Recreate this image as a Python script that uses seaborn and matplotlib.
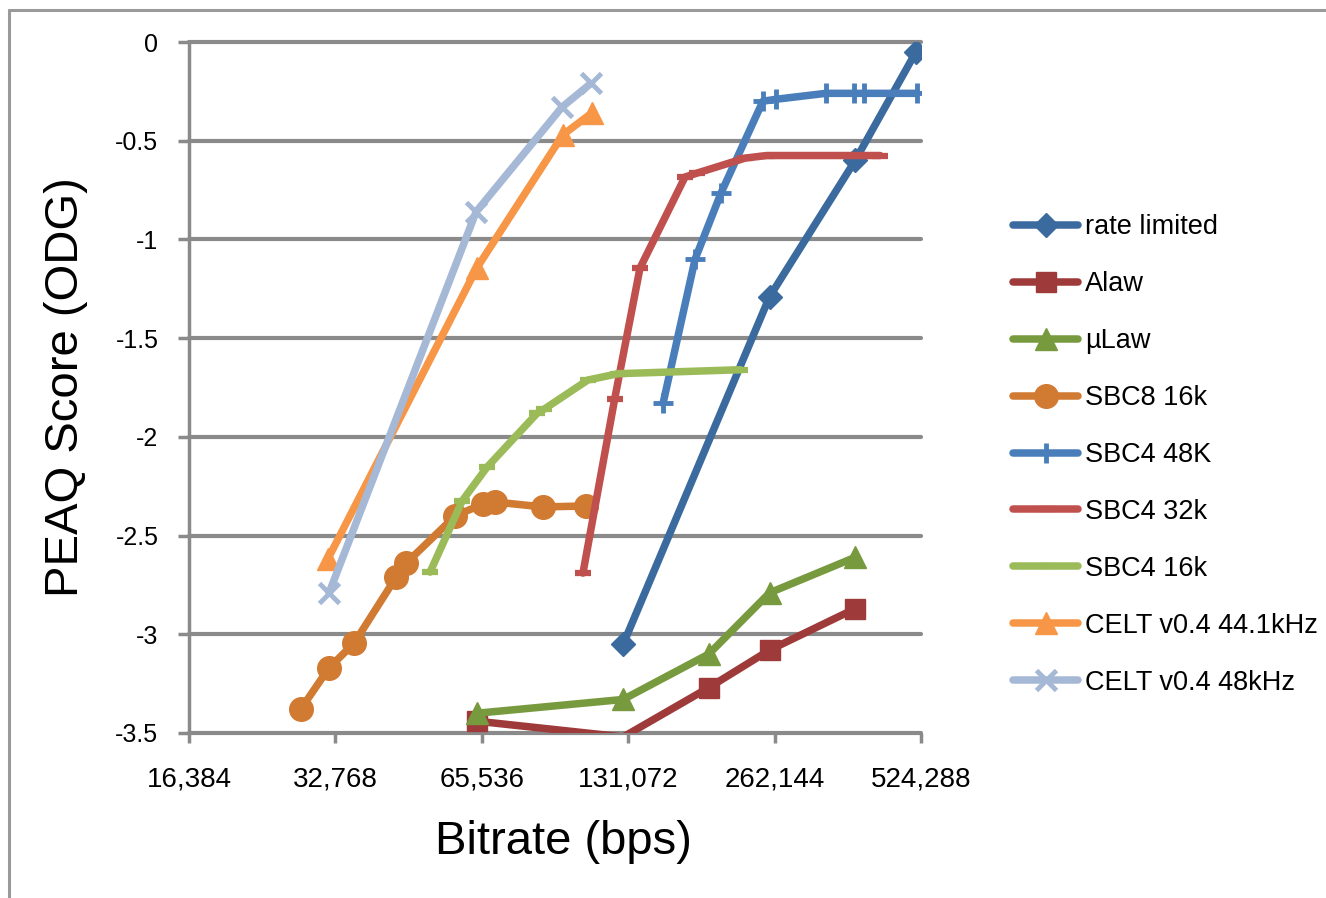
import matplotlib
matplotlib.use("Agg")
import matplotlib.pyplot as plt
import seaborn as sns
import pandas as pd
from matplotlib.lines import Line2D

sns.set_theme(style="white")
plt.rcParams['font.family'] = ['Liberation Sans', 'DejaVu Sans']
plt.rcParams['text.color'] = 'black'
plt.rcParams['axes.labelcolor'] = 'black'
plt.rcParams['xtick.color'] = 'black'
plt.rcParams['ytick.color'] = 'black'

# ---------------- data ----------------
rate_x = [128000, 256000, 384000, 512000]
rate_y = [-3.05, -1.29, -0.60, -0.05]

alaw_x = [64000, 128000, 192000, 256000, 384000]
alaw_y = [-3.44, -3.52, -3.27, -3.08, -2.87]

mulaw_x = [64000, 128000, 192000, 256000, 384000]
mulaw_y = [-3.40, -3.33, -3.10, -2.79, -2.61]

sbc8_16_x = [27800, 31800, 35800, 43700, 45800, 57800, 65900, 69800, 87500, 107300]
sbc8_16_y = [-3.38, -3.17, -3.045, -2.71, -2.64, -2.40, -2.34, -2.33, -2.355, -2.35]

sbc4_48_x = [154600, 179900, 203400, 248000, 264000, 334000, 381000, 401000, 514000]
sbc4_48_y = [-1.83, -1.10, -0.765, -0.30, -0.29, -0.26, -0.26, -0.26, -0.26]

sbc4_32_x = [105800, 122900, 138600, 171500, 181600, 228000, 252600, 432000]
sbc4_32_y = [-2.69, -1.81, -1.145, -0.684, -0.664, -0.588, -0.575, -0.575]

sbc4_16_x = [51300, 59700, 67100, 85200, 88000, 108300, 125000, 222800]
sbc4_16_y = [-2.685, -2.325, -2.155, -1.88, -1.86, -1.712, -1.68, -1.66]

celt44_x = [31600, 64000, 96200, 110300]
celt44_y = [-2.62, -1.145, -0.47, -0.36]

celt48_x = [31800, 63800, 95800, 109800]
celt48_y = [-2.79, -0.86, -0.33, -0.21]

series_names = ["rate limited", "Alaw", "\u00b5Law", "SBC8 16k", "SBC4 48K",
                "SBC4 32k", "SBC4 16k", "CELT v0.4 44.1kHz", "CELT v0.4 48kHz"]
x_tick_values = [16384, 32768, 65536, 131072, 262144, 524288]
x_tick_labels = ["16,384", "32,768", "65,536", "131,072", "262,144", "524,288"]
y_tick_values = [0, -0.5, -1, -1.5, -2, -2.5, -3, -3.5]
y_tick_labels = ["0", "-0.5", "-1", "-1.5", "-2", "-2.5", "-3", "-3.5"]

series_data = [
    (rate_x, rate_y), (alaw_x, alaw_y), (mulaw_x, mulaw_y), (sbc8_16_x, sbc8_16_y),
    (sbc4_48_x, sbc4_48_y), (sbc4_32_x, sbc4_32_y), (sbc4_16_x, sbc4_16_y),
    (celt44_x, celt44_y), (celt48_x, celt48_y),
]

# ---------------- styles ----------------
styles = [
    dict(color="#3B6A9E", marker="D", markersize=12, mew=1),
    dict(color="#9E3B3A", marker="s", markersize=14, mew=1),
    dict(color="#789A3E", marker="^", markersize=16, mew=1),
    dict(color="#D07A32", marker="o", markersize=17, mew=1),
    dict(color="#4A7EBB", marker="+", markersize=15, mew=3.5),
    dict(color="#C0504D", marker="_", markersize=12, mew=4.5),
    dict(color="#9BBB59", marker="_", markersize=12, mew=4.5),
    dict(color="#F79646", marker="^", markersize=16, mew=1),
    dict(color="#A5B8D6", marker="x", markersize=14, mew=3.5),
]

Y_MIN, Y_MAX = -3.5, 0

W, H = 1326, 898
fig = plt.figure(figsize=(W / 100, H / 100), dpi=100)
ax = fig.add_axes([189 / W, 1 - 733 / H, (921 - 189) / W, (733 - 42) / H])

grid_color = "#8A8A8A"

for name, (xs, ys), st in zip(series_names, series_data, styles):
    df = pd.DataFrame({"x": xs, "y": ys})
    # markers of points outside the value range are hidden (as in the source)
    visible = [i for i, v in enumerate(ys) if Y_MIN <= v <= Y_MAX]
    sns.lineplot(data=df, x="x", y="y", ax=ax, sort=False, estimator=None,
                 color=st["color"], linewidth=5.4, marker=st["marker"],
                 markersize=st["markersize"], markeredgewidth=st["mew"],
                 markeredgecolor=st["color"], markerfacecolor=st["color"],
                 markevery=visible,
                 solid_capstyle="round", solid_joinstyle="round",
                 label=name, zorder=3)

ax.set_xscale("log", base=2)
ax.set_xlim(16384, 524288)
ax.set_ylim(Y_MIN, Y_MAX)
ax.set_xticks(x_tick_values)
ax.set_xticklabels(x_tick_labels, fontsize=20)
ax.set_yticks(y_tick_values)
ax.set_yticklabels(y_tick_labels, fontsize=18)
ax.xaxis.set_minor_locator(matplotlib.ticker.NullLocator())

ax.set_xlabel("")
ax.set_ylabel("")
ax.grid(False)
ax.yaxis.grid(True, color=grid_color, linewidth=3, zorder=1)
ax.set_axisbelow(True)
for gl in ax.get_ygridlines():
    gl.set_clip_on(False)

for s in ["top", "right", "bottom"]:
    ax.spines[s].set_visible(False)
ax.spines["left"].set_color(grid_color)
ax.spines["left"].set_linewidth(2.5)

ax.tick_params(axis="x", direction="out", length=7, width=2.5, color=grid_color,
               pad=17, labelcolor="black", bottom=True)
ax.tick_params(axis="y", direction="out", length=8, width=2.5, color=grid_color,
               pad=14, labelcolor="black", left=True)
ax.patch.set_alpha(0)

# axis titles
fig.text(563 / W, 1 - 842 / H, "Bitrate (bps)", fontsize=34, ha="center", va="center",
         color="black")
fig.text(66 / W, 1 - 387 / H, "PEAQ Score (ODG)", fontsize=34, ha="center", va="center",
         rotation=90, color="black")

# legend
handles, labels = ax.get_legend_handles_labels()
if ax.get_legend() is not None:
    ax.get_legend().remove()
fig.legend(handles, labels, loc="center left", bbox_to_anchor=(1013 / W, 1 - 455 / H),
           frameon=False, fontsize=19.5, handlelength=2.4, handletextpad=0.25,
           labelspacing=1.14, borderpad=0, borderaxespad=0, labelcolor="black")

# outer border lines (partial chart frame)
border = "#9A9A9A"
fig.add_artist(Line2D([9 / W, 1], [1 - 10 / H, 1 - 10 / H], color=border, linewidth=2.2,
                      transform=fig.transFigure))
fig.add_artist(Line2D([9 / W, 9 / W], [0, 1 - 10 / H], color=border, linewidth=2.2,
                      transform=fig.transFigure))

fig.savefig("out.png", dpi=100)
